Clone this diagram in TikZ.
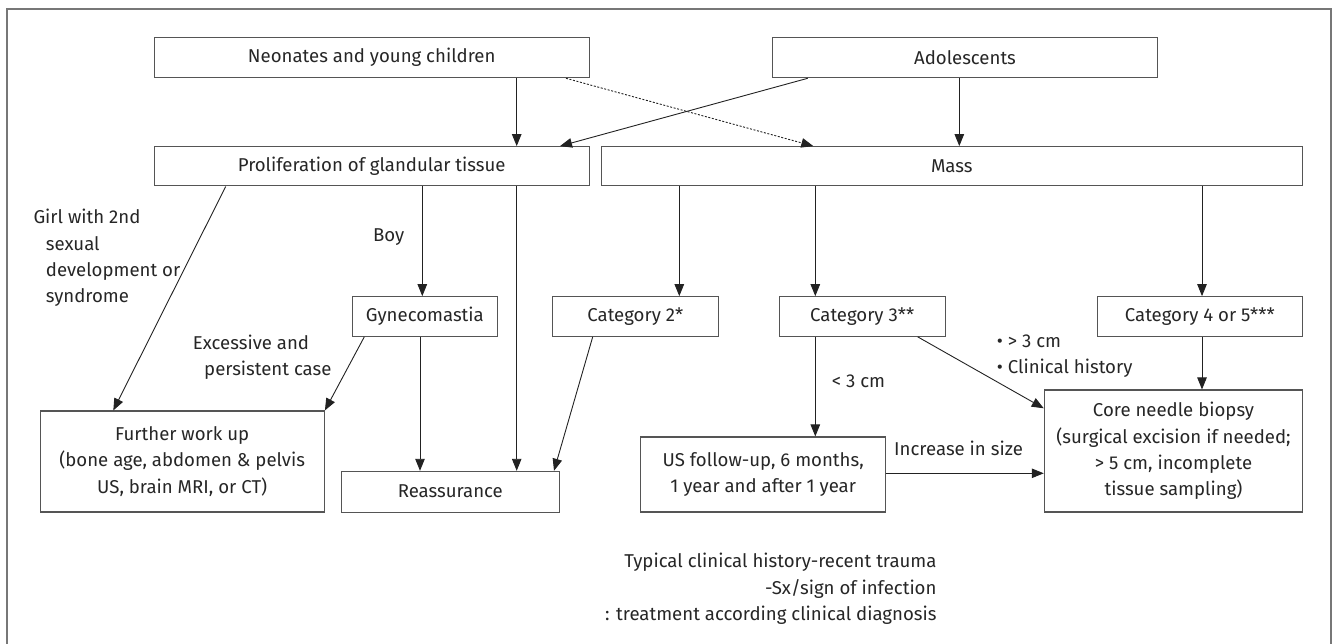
\documentclass[tikz,border=0pt]{standalone}
\usepackage{fontspec}
\setmainfont{Fira Sans}
\usetikzlibrary{arrows.meta,calc}
\definecolor{txt}{HTML}{262626}
\definecolor{boxline}{HTML}{555555}
\definecolor{arrline}{HTML}{222222}
\definecolor{frame}{HTML}{777777}
\tikzset{
  box/.style={draw=boxline, line width=1.1pt, inner sep=0pt, align=center, text=txt},
  arr/.style={draw=arrline, line width=0.9pt, -{Triangle[length=12pt,width=9.5pt]}},
  dotarr/.style={arr, dash pattern=on 2pt off 1.6pt},
  lbl/.style={inner sep=0pt, text=txt},
}
\newcommand{\fs}{\fontsize{18.6}{26.3}\selectfont}
\begin{document}
\begin{tikzpicture}[x=1pt,y=-1pt, font=\fs]
\useasboundingbox (0,0) rectangle (1335,644);
\draw[frame, line width=1.4pt] (7,644) -- (7,9) -- (1331,9) -- (1331,644);

% boxes
\node[box, minimum width=435pt, minimum height=40.5pt] (neo) at (371.7,57.5) {Neonates and young children};
\node[box, minimum width=384.6pt, minimum height=40.5pt] (ado) at (965,57.5) {Adolescents};
\node[box, minimum width=435pt, minimum height=39.3pt] (pro) at (371.7,166.3) {Proliferation of glandular tissue};
\node[box, minimum width=701pt, minimum height=39.3pt] (mass) at (951.8,166.3) {Mass};
\node[box, minimum width=145pt, minimum height=39.6pt] (gyn) at (424.8,316.5) {Gynecomastia};
\node[box, minimum width=166pt, minimum height=39.6pt] (cat2) at (635.3,316.5) {Category 2*};
\node[box, minimum width=165.7pt, minimum height=39.6pt] (cat3) at (862.2,316.5) {Category 3**};
\node[box, minimum width=205pt, minimum height=39.6pt] (cat45) at (1199.8,316.5) {Category 4 or 5***};
\node[box, minimum width=284.3pt, minimum height=101pt] (fwu) at (182.2,461.5) {Further work up\\(bone age, abdomen \& pelvis\\US, brain MRI, or CT)};
\node[box, minimum width=218.5pt, minimum height=40.7pt] (rea) at (450.3,491.7) {Reassurance};
\node[box, minimum width=245pt, minimum height=75pt] (usf) at (763.2,474.5) {US follow-up, 6 months,\\1 year and after 1 year};
\node[box, minimum width=258.4pt, minimum height=122pt] (core) at (1173.5,451) {Core needle biopsy\\(surgical excision if needed;\\> 5 cm, incomplete\\tissue sampling)};

% connectors
\draw[arr] (516.7,0 |- neo.south) -- (516.7,0 |- pro.north);
\draw[arr] (959.3,0 |- ado.south) -- (959.3,0 |- mass.north);
\draw[arr] (807.7,0 |- ado.south) -- (560,0 |- pro.north);
\draw[dotarr] (566,0 |- neo.south) -- (813.3,0 |- mass.north);

\draw[arr] (225.7,0 |- pro.south) -- (113.3,0 |- fwu.north);
\draw[arr] (422.3,0 |- pro.south) -- (422.3,0 |- gyn.north);
\draw[arr] (516.7,0 |- pro.south) -- (516.7,0 |- rea.north);
\draw[arr] (364.3,0 |- gyn.south) -- (fwu.north east);
\draw[arr] (420,0 |- gyn.south) -- (420,0 |- rea.north);
\draw[arr] (592.7,0 |- cat2.south) -- (554,0 |- rea.north);

\draw[arr] (679.3,0 |- mass.south) -- (679.3,0 |- cat2.north);
\draw[arr] (815.3,0 |- mass.south) -- (815.3,0 |- cat3.north);
\draw[arr] (1202,0 |- mass.south) -- (1202,0 |- cat45.north);
\draw[arr] (815.3,0 |- cat3.south) -- (815.3,0 |- usf.north);
\draw[arr] (917.7,0 |- cat3.south) -- (core.west |- 0,408.3);
\draw[arr] (1202,0 |- cat45.south) -- (1202,0 |- core.north);
\draw[arr] (usf.east |- 0,473.3) -- (core.west |- 0,473.3);

% labels
\node[lbl, anchor=west, align=left] (lgirl) at (33.3,258) {Girl with 2nd\\\hspace*{12.4pt}sexual\\\hspace*{12.4pt}development or\\\hspace*{12.4pt}syndrome};
\node[lbl] (lboy) at (388.7,237) {Boy};
\node[lbl, anchor=west, align=left] (lexc) at (192.7,357) {Excessive and\\\hspace*{11.3pt}persistent case};
\node[lbl, anchor=west] (llt) at (831.7,381.7) {< 3 cm};
\node[lbl, anchor=west, align=left] (lgt) at (996.7,356.3) {• > 3 cm\\• Clinical history};
\node[lbl, anchor=west] (linc) at (894,448.3) {Increase in size};
\node[lbl, anchor=east, align=right] (lnote) at (936.7,589) {Typical clinical history-recent trauma\\-Sx/sign of infection\\: treatment according clinical diagnosis};
\end{tikzpicture}
\end{document}
